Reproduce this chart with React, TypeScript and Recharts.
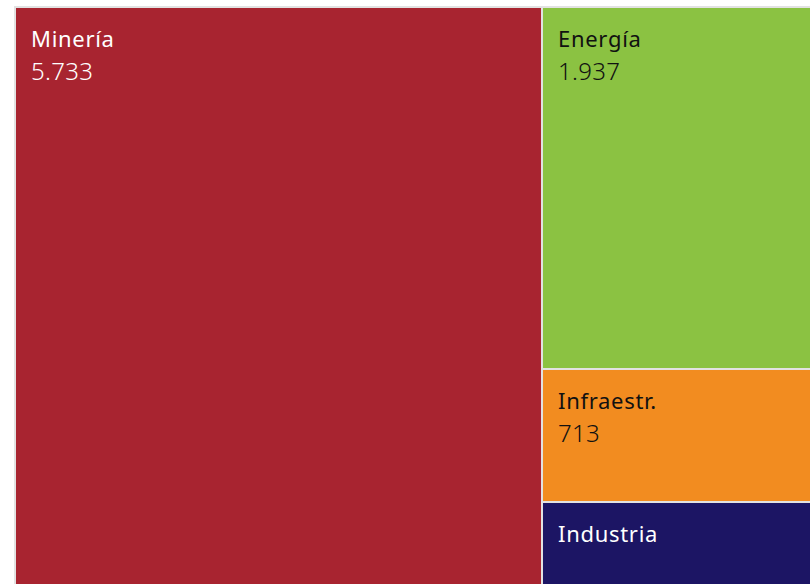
import React from "react";
import { Treemap } from "recharts";

const sectors = ["Minería", "Energía", "Infraestr.", "Industria"];
const amounts = [5733, 1937, 713, 480];
const fills = ["#a82430", "#8bc242", "#f28c20", "#1c1564"];
const inks = ["#ffffff", "#111111", "#111111", "#ffffff"];

const treeData = sectors.map((name, i) => ({ name, size: amounts[i] }));

const fmt = (v: number) => String(v).replace(/\B(?=(\d{3})+(?!\d))/g, ".");

function Cell(props: any) {
  const { x, y, width, height, depth, name, value } = props;
  if (depth !== 1) return null;
  const i = sectors.indexOf(name);
  return (
    <g>
      <rect x={x} y={y} width={width} height={height} fill={fills[i]} stroke="#e2e2e2" strokeWidth={2} />
      <text x={x + 16} y={y + 40} fill={inks[i]} fontSize={22} letterSpacing={0.7} fontFamily="'Noto Sans', sans-serif">
        {name}
      </text>
      {height >= 120 && (
        <text x={x + 16} y={y + 73} fill={inks[i]} fontSize={24} fontWeight={300} letterSpacing={0.3} fontFamily="'Noto Sans', sans-serif">
          {fmt(value)}
        </text>
      )}
    </g>
  );
}

export default function App() {
  return (
    <div style={{ position: "absolute", left: 0, top: 0, width: 810, height: 584, overflow: "hidden", background: "#fff" }}>
      <style>{`.recharts-surface{overflow:visible}`}</style>
      <div style={{ position: "absolute", left: 15, top: 7 }}>
        <Treemap
          width={815}
          height={586}
          data={treeData}
          dataKey="size"
          aspectRatio={1.8}
          isAnimationActive={false}
          content={<Cell />}
        />
      </div>
    </div>
  );
}
